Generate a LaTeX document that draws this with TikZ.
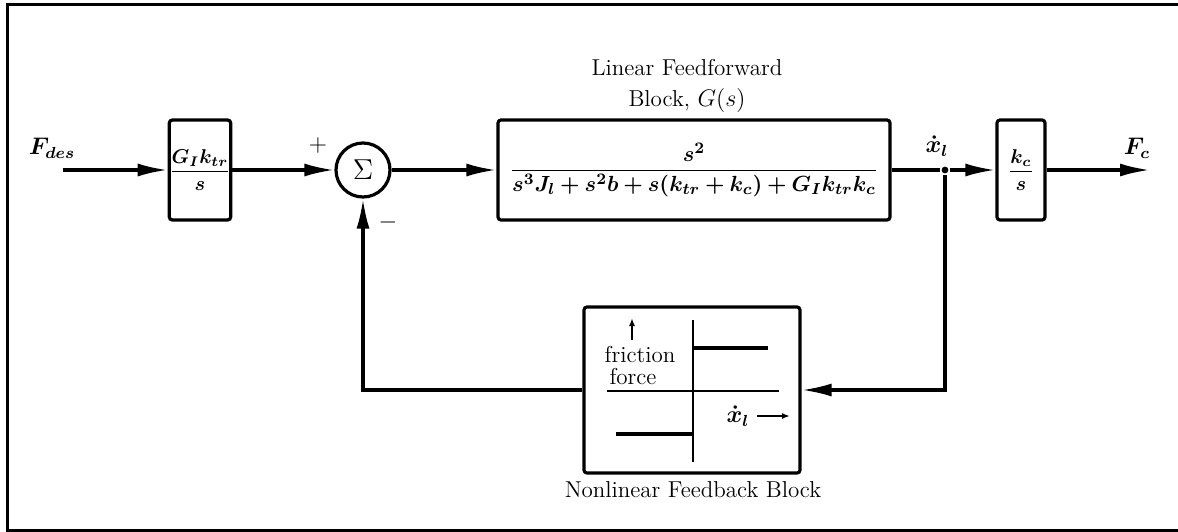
\documentclass[tikz,border=0pt]{standalone}
\usepackage{amsmath}
\usepackage{bm}
\usetikzlibrary{arrows.meta}
\begin{document}
\begin{tikzpicture}[x=0.5pt,y=-0.5pt,line width=1.6pt,
	block/.style={rectangle, draw, rounded corners=1.5pt, inner sep=0pt},
	flow/.style={-{Latex[length=15pt,width=6.5pt]}},
	lbl/.style={font=\fontsize{11.5}{13}\selectfont},
	tiny/.style={line width=1.2pt,-{Latex[length=4pt,width=3pt]}}]
	\useasboundingbox (0,0) rectangle (1178,531);
	\draw[line width=1.5pt] (1178,4) -- (7,4) -- (7,530) -- (1178,530);
	% forward path
	\coordinate (in) at (63,170);
	\node (GI) at (200,170)	[block, minimum width=30pt, minimum height=50pt]	{$\dfrac{\bm{G_Ik_{tr}}}{\bm{s}}$};
	\node (sum) at (363,170)	[circle, draw, minimum size=27pt, inner sep=0pt]	{\Large$\Sigma$};
	\node (G) at (694,170)	[block, minimum width=196pt, minimum height=50pt, font=\fontsize{10.9}{13}\selectfont]	{$\dfrac{\bm{s^2}}{\bm{s^3J_l+s^2b+s(k_{tr}+k_c)+G_Ik_{tr}k_c}}$};
	\node (br) at (945,170)	[circle, fill, inner sep=1.2pt]	{};
	\node (kc) at (1021,170)	[block, minimum width=24pt, minimum height=50pt]	{$\dfrac{\bm{k_c}}{\bm{s}}$};
	\coordinate (out) at (1150,170);
	% feedback block
	\node (NL) at (692,390)	[block, minimum width=108pt, minimum height=83pt]	{};
	% labels
	\node (Fdes) at (52,148)	[lbl]	{$\bm{F_{des}}$};
	\node (plus) at (318,145)	{\large$+$};
	\node (minus) at (388,222)	{\large$-$};
	\node (title1) at (687,68)	[lbl]	{Linear Feedforward};
	\node (title2) at (687,100)	[lbl]	{Block, $G(s)$};
	\node (xdot) at (937,146)	[lbl]	{$\bm{\dot{x}_l}$};
	\node (Fc) at (1137,148)	[lbl]	{$\bm{F_c}$};
	\node (nlcap) at (693,490)	[lbl]	{Nonlinear Feedback Block};
	% connectors
	\draw[flow] (in) -- (GI);
	\draw[flow] (GI) -- (sum);
	\draw[flow] (sum) -- (G);
	\draw (G) -- (br);
	\draw[flow] (br) -- (kc);
	\draw[flow] (kc) -- (out);
	\draw[flow] (br) |- (NL);
	\draw[flow] (NL) -| (sum);
	% friction characteristic
	\draw[line width=1.3pt] (693,320) -- (693,462);
	\draw[line width=1.3pt] (607,391) -- (779,391);
	\draw (693,348) -- (768,348);
	\draw (616,434) -- (693,434);
	\draw[tiny] (632,340) -- (632,318);
	\node (fric) at (640,355)	[lbl]	{friction};
	\node (force) at (633,377)	[lbl]	{force};
	\node (xnl) at (738,416)	[lbl]	{$\bm{\dot{x}_l}$};
	\draw[tiny] (757,416) -- (790,416);
\end{tikzpicture}
\end{document}
